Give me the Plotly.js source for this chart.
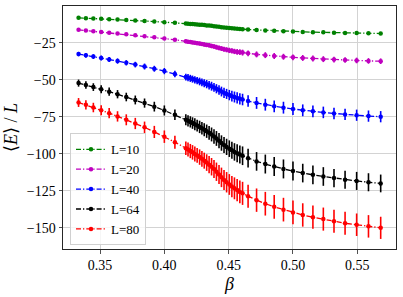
<!DOCTYPE html>
<html>
<head>
<meta charset="utf-8">
<script src="https://cdn.plot.ly/plotly-3.0.1.min.js"></script>
<style>html,body{margin:0;padding:0;background:#fff;}#chart{width:403px;height:297px;}</style>
</head>
<body>
<div id="chart"></div>
<script>
// inverse temperature values
const beta = [
  0.3333,0.3390,0.3448,0.3509,0.3571,0.3636,0.3704,0.3774,0.3846,0.3922,0.4000,0.4082,
  0.4167,0.4184,0.4202,0.4219,0.4237,0.4255,0.4274,0.4292,0.4310,0.4329,0.4348,0.4367,
  0.4386,0.4405,0.4425,0.4444,0.4464,0.4484,0.4505,0.4525,0.4545,0.4566,0.4587,0.4608,
  0.4651,0.4717,0.4785,0.4854,0.4926,0.5000,0.5076,0.5155,0.5236,0.5319,0.5405,0.5495,0.5587,0.5682
];
const labels = ["L=10","L=20","L=40","L=64","L=80"];
const colors = ["#008000","#bf00bf","#0000ff","#000000","#ff0000"];

const E10 = [-8.2,-8.4,-8.6,-8.8,-9.1,-9.4,-9.6,-10.0,-10.3,-10.7,-11.1,-11.5,
  -12.0,-12.2,-12.3,-12.4,-12.5,-12.7,-12.8,-12.9,-13.1,-13.3,-13.4,-13.6,-13.8,-14.0,-14.3,-14.5,-14.7,-14.9,-15.1,-15.3,-15.4,-15.6,-15.7,-15.9,
  -16.1,-16.4,-16.7,-17.0,-17.2,-17.5,-17.7,-17.9,-18.0,-18.2,-18.4,-18.5,-18.6,-18.8];
const E20 = [-16.3,-16.8,-17.2,-17.7,-18.2,-18.7,-19.3,-19.9,-20.6,-21.3,-22.1,-23.0,
  -24.1,-24.3,-24.5,-24.8,-25.0,-25.3,-25.6,-25.9,-26.2,-26.5,-26.8,-27.2,-27.6,-28.0,-28.5,-29.0,-29.4,-29.8,-30.2,-30.5,-30.9,-31.2,-31.4,-31.7,
  -32.2,-32.9,-33.4,-34.0,-34.5,-34.9,-35.3,-35.7,-36.1,-36.4,-36.7,-37.0,-37.3,-37.5];
const E40 = [-32.7,-33.5,-34.4,-35.3,-36.3,-37.4,-38.6,-39.8,-41.1,-42.6,-44.2,-46.1,
  -48.2,-48.6,-49.1,-49.6,-50.1,-50.6,-51.2,-51.8,-52.4,-53.0,-53.7,-54.4,-55.2,-56.1,-57.0,-58.0,-58.9,-59.6,-60.4,-61.1,-61.7,-62.3,-62.9,-63.4,
  -64.4,-65.7,-66.9,-68.0,-68.9,-69.8,-70.7,-71.4,-72.1,-72.8,-73.5,-74.0,-74.6,-75.0];
const E64 = [-52.3,-53.6,-55.0,-56.5,-58.1,-59.8,-61.7,-63.7,-65.8,-68.2,-70.8,-73.7,
  -77.1,-77.8,-78.5,-79.3,-80.1,-81.0,-81.9,-82.8,-83.8,-84.8,-85.9,-87.0,-88.3,-89.7,-91.2,-92.8,-94.2,-95.4,-96.6,-97.7,-98.8,-99.7,-100.6,-101.4,
  -103.0,-105.2,-107.0,-108.7,-110.3,-111.7,-113.1,-114.3,-115.4,-116.5,-117.6,-118.4,-119.3,-120.1];
const E80 = [-65.4,-67.0,-68.8,-70.6,-72.6,-74.8,-77.1,-79.6,-82.2,-85.3,-88.5,-92.2,
  -96.3,-97.2,-98.2,-99.1,-100.2,-101.2,-102.3,-103.5,-104.7,-106.0,-107.4,-108.8,-110.4,-112.2,-114.0,-116.0,-117.8,-119.3,-120.8,-122.2,-123.4,-124.6,-125.8,-126.8,
  -128.8,-131.4,-133.8,-135.9,-137.8,-139.7,-141.4,-142.9,-144.2,-145.7,-147.0,-148.0,-149.1,-150.1];

const err10 = [0.4,0.4,0.4,0.4,0.4,0.4,0.5,0.5,0.5,0.5,0.5,0.6,
  0.6,0.6,0.6,0.6,0.6,0.6,0.7,0.7,0.7,0.7,0.7,0.7,0.8,0.8,0.8,0.8,0.8,0.9,0.9,0.9,0.9,0.9,1.0,1.0,
  1.0,1.0,1.0,1.0,1.0,1.0,1.0,1.0,1.0,1.0,1.0,0.9,0.9,0.9];
const err20 = [0.8,0.8,0.8,0.8,0.9,0.9,0.9,0.9,1.0,1.0,1.1,1.1,
  1.2,1.2,1.2,1.2,1.2,1.3,1.3,1.3,1.4,1.4,1.4,1.5,1.5,1.6,1.6,1.6,1.7,1.7,1.8,1.8,1.8,1.9,1.9,2.0,
  2.0,2.0,2.0,2.0,2.0,2.0,2.0,2.0,2.0,1.9,1.9,1.9,1.9,1.9];
const err40 = [1.5,1.6,1.6,1.7,1.7,1.8,1.8,1.9,2.0,2.0,2.1,2.2,
  2.3,2.4,2.4,2.4,2.5,2.5,2.6,2.6,2.7,2.8,2.9,3.0,3.0,3.1,3.2,3.3,3.4,3.4,3.5,3.6,3.7,3.8,3.8,3.9,
  3.9,4.0,4.0,4.0,4.0,4.0,4.0,4.0,3.9,3.9,3.8,3.8,3.8,3.8];
const err64 = [2.4,2.5,2.6,2.7,2.8,2.8,2.9,3.0,3.1,3.3,3.4,3.5,
  3.7,3.8,3.8,3.9,4.0,4.0,4.2,4.2,4.4,4.5,4.6,4.7,4.9,5.0,5.1,5.2,5.4,5.5,5.6,5.8,5.9,6.0,6.1,6.3,
  6.3,6.3,6.4,6.4,6.4,6.4,6.3,6.3,6.3,6.2,6.1,6.1,6.1,6.0];
const err80 = [3.0,3.1,3.2,3.4,3.4,3.5,3.7,3.8,3.9,4.1,4.2,4.4,
  4.6,4.7,4.8,4.9,5.0,5.0,5.2,5.3,5.4,5.6,5.8,5.9,6.1,6.2,6.4,6.6,6.7,6.9,7.0,7.2,7.4,7.5,7.7,7.8,
  7.8,7.9,8.0,8.0,8.0,8.0,7.9,7.9,7.8,7.8,7.7,7.6,7.6,7.5];

const xTicks = [0.35,0.40,0.45,0.50,0.55];
const xTickText = ["0.35","0.40","0.45","0.50","0.55"];
const yTicks = [-150,-125,-100,-75,-50,-25];

const series = [E10,E20,E40,E64,E80];
const errs = [err10,err20,err40,err64,err80];

const font = "Liberation Serif, DejaVu Serif, serif";

const traces = series.map((ys,i) => ({
  type: "scatter",
  mode: "lines+markers",
  x: beta,
  y: ys,
  name: labels[i],
  line: {color: colors[i], width: 1.3, dash: "5px,2px,1.3px,2px"},
  marker: {color: colors[i], size: 4.5},
  error_y: {type: "data", array: errs[i], visible: true, color: colors[i], thickness: 1.6, width: 0}
}));

const layout = {
  width: 403, height: 297,
  margin: {l: 63, r: 7, t: 6, b: 48},
  paper_bgcolor: "#fff", plot_bgcolor: "#fff",
  showlegend: true,
  font: {family: font, size: 14, color: "#000"},
  legend: {
    x: 0.021, y: 0.015, xanchor: "left", yanchor: "bottom",
    bgcolor: "rgba(255,255,255,0.8)", bordercolor: "#d0d0d0", borderwidth: 1,
    font: {family: font, size: 13, color: "#000"},
    itemwidth: 30
  },
  xaxis: {
    range: [0.3212, 0.5801],
    tickvals: xTicks, ticktext: xTickText,
    showgrid: true, gridcolor: "#d3d3d3", gridwidth: 1,
    zeroline: false,
    showline: true, linecolor: "#262626", linewidth: 1, mirror: true,
    ticks: "outside", ticklen: 3.5, tickcolor: "#262626", tickwidth: 0.8,
    tickfont: {family: font, size: 14},
    title: {text: "<i>β</i>", font: {family: font, size: 18}, standoff: 5}
  },
  yaxis: {
    range: [-164.4, -0.2],
    tickvals: yTicks,
    showgrid: true, gridcolor: "#d3d3d3", gridwidth: 1,
    zeroline: false,
    showline: true, linecolor: "#262626", linewidth: 1, mirror: true,
    ticks: "outside", ticklen: 3.5, tickcolor: "#262626", tickwidth: 0.8,
    tickfont: {family: font, size: 14},
    title: {text: "⟨<i>E</i>⟩ / <i>L</i>", font: {family: font, size: 18}, standoff: 4}
  }
};

Plotly.newPlot("chart", traces, layout, {staticPlot: true, displayModeBar: false});
</script>
</body>
</html>
